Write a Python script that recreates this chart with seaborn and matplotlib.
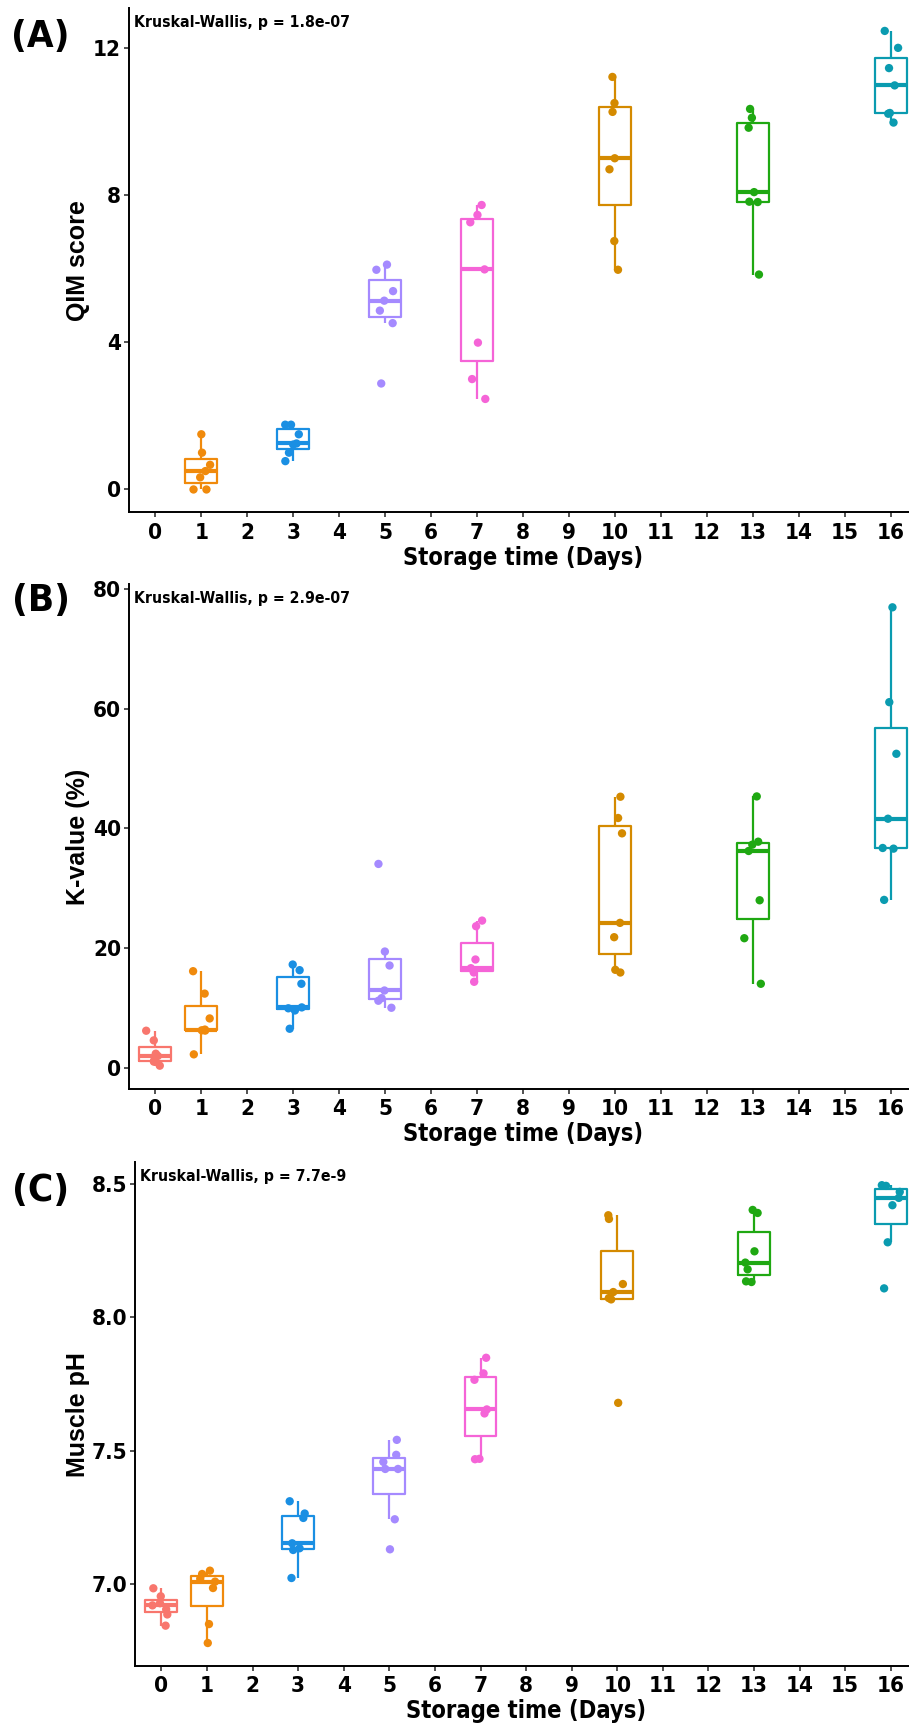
import numpy as np
import pandas as pd
import matplotlib
matplotlib.use("Agg")
import matplotlib.pyplot as plt
from matplotlib import font_manager
import seaborn as sns

# ---------------- data ----------------
day_ticks = list(range(0, 17))

qim_days = [1, 3, 5, 7, 10, 13, 16]
qim_values = [
    [0.0, 0.0, 0.33, 0.5, 0.67, 1.0, 1.5],
    [0.77, 1.0, 1.22, 1.25, 1.5, 1.76, 1.76],
    [2.88, 4.52, 4.86, 5.13, 5.39, 5.97, 6.11],
    [2.46, 3.0, 3.99, 5.98, 7.26, 7.46, 7.73],
    [5.97, 6.75, 8.70, 9.0, 10.26, 10.50, 11.21],
    [5.84, 7.81, 7.82, 8.08, 9.83, 10.10, 10.34],
    [9.97, 10.21, 10.23, 10.98, 11.45, 12.0, 12.46],
]

kval_days = [0, 1, 3, 5, 7, 10, 13, 16]
kval_values = [
    [0.43, 1.1, 1.25, 2.05, 2.43, 4.65, 6.26],
    [2.32, 6.28, 6.33, 6.45, 8.31, 12.45, 16.19],
    [6.59, 9.64, 10.0, 10.15, 14.09, 16.36, 17.3],
    [10.09, 11.26, 11.69, 12.97, 17.14, 19.47, 34.08],
    [14.42, 15.97, 16.36, 16.69, 18.14, 23.69, 24.63],
    [15.97, 16.42, 21.86, 24.25, 39.18, 41.74, 45.29],
    [14.09, 21.69, 28.02, 36.24, 37.29, 37.79, 45.34],
    [28.08, 36.63, 36.74, 41.62, 52.45, 61.06, 76.88],
]

ph_days = [0, 1, 3, 5, 7, 10, 13, 16]
ph_values = [
    [6.844, 6.886, 6.905, 6.92, 6.928, 6.954, 6.984],
    [6.779, 6.85, 6.985, 7.009, 7.02, 7.0375, 7.05],
    [7.0225, 7.1275, 7.134, 7.1525, 7.2475, 7.264, 7.31],
    [7.13, 7.2425, 7.431, 7.431, 7.4575, 7.484, 7.54],
    [7.4675, 7.469, 7.639, 7.654, 7.765, 7.789, 7.8475],
    [7.6786, 8.0662, 8.0712, 8.0937, 8.1237, 8.3676, 8.3814],
    [8.1313, 8.1338, 8.1788, 8.204, 8.2463, 8.39, 8.4013],
    [8.1075, 8.2801, 8.419, 8.4464, 8.4689, 8.4914, 8.494],
]

day_colors = {
    0: "#F8766D",
    1: "#F08A0C",
    3: "#1A8FE3",
    5: "#A58AFF",
    7: "#F564D7",
    10: "#D48A00",
    13: "#1FA812",
    16: "#0A9BB0",
}

panel_letters = ["(A)", "(B)", "(C)"]
y_labels = ["QIM score", "K-value (%)", "Muscle pH"]
kw_texts = ["Kruskal-Wallis, p = 1.8e-07",
            "Kruskal-Wallis, p = 2.9e-07",
            "Kruskal-Wallis, p = 7.7e-9"]
y_ticks = [[0, 4, 8, 12], [0, 20, 40, 60, 80], [7.0, 7.5, 8.0, 8.5]]
y_ticklabels = [["0", "4", "8", "12"], ["0", "20", "40", "60", "80"],
                ["7.0", "7.5", "8.0", "8.5"]]
x_label = "Storage time (Days)"

# ---------------- style ----------------
sns.set_style("ticks")
plt.rcParams["font.family"] = ["Liberation Sans", "DejaVu Sans"]
plt.rcParams["font.weight"] = "bold"
plt.rcParams["text.color"] = "black"
plt.rcParams["axes.labelcolor"] = "black"
plt.rcParams["axes.linewidth"] = 1.4
plt.rcParams["xtick.major.width"] = 1.2
plt.rcParams["ytick.major.width"] = 1.2
plt.rcParams["xtick.major.size"] = 3.5
plt.rcParams["ytick.major.size"] = 3.5
plt.rcParams["xtick.color"] = "#333333"
plt.rcParams["ytick.color"] = "#333333"

# condensed bold font for horizontal texts
_names = {f.name for f in font_manager.fontManager.ttflist}
_dv_cond = any(f.name == "DejaVu Sans" and "condensed" in str(f.stretch)
               for f in font_manager.fontManager.ttflist)
if "Liberation Sans Narrow" in _names:
    NARROW = dict(family=["Liberation Sans Narrow", "DejaVu Sans"], scale=1.0)
elif _dv_cond:
    NARROW = dict(family=["DejaVu Sans"], stretch="condensed", scale=0.92)
else:
    NARROW = dict(family=["Liberation Sans", "DejaVu Sans"], scale=0.85)


def nprops(size):
    kw = dict(family=NARROW["family"], weight="bold", size=size * NARROW["scale"])
    if "stretch" in NARROW:
        kw["stretch"] = NARROW["stretch"]
    return font_manager.FontProperties(**kw)


W, H = 909, 1726
fig = plt.figure(figsize=(W / 100, H / 100), dpi=100)

# axes rectangles in pixels: left, top, right, bottom
rects_px = [(128.7, 8.0, 909, 512.4),
            (128.7, 584.4, 909, 1088.6),
            (135.0, 1162.3, 909, 1665.9)]
letter_y_px = [37, 601, 1191]

np.random.seed(7)

datasets = [(qim_days, qim_values), (kval_days, kval_values), (ph_days, ph_values)]

for i, ((days, values), (l, t, r, b)) in enumerate(zip(datasets, rects_px)):
    ax = fig.add_axes([l / W, 1 - b / H, (r - l) / W, (b - t) / H])
    df = pd.DataFrame({
        "day": np.repeat(days, [len(v) for v in values]),
        "value": np.concatenate(values),
    })
    df["group"] = df["day"].astype(str)
    pal = {str(d): day_colors[d] for d in days}
    nw = float(np.diff(sorted(days)).min())

    sns.boxplot(data=df, x="day", y="value", hue="group", palette=pal,
                native_scale=True, fill=False, width=0.7 / nw, showfliers=False,
                showcaps=False, linewidth=1.6, saturation=1, legend=False,
                ax=ax, medianprops=dict(linewidth=3.0))
    sns.stripplot(data=df, x="day", y="value", hue="group", palette=pal,
                  native_scale=True, jitter=0.2 / nw, size=6, legend=False,
                  ax=ax, zorder=3, linewidth=0)

    vmin, vmax = df["value"].min(), df["value"].max()
    pad = 0.05 * (vmax - vmin)
    ax.set_ylim(vmin - pad, vmax + pad)
    ax.set_xlim(-0.58, 16.4)

    ax.set_xticks(day_ticks)
    ax.set_xticklabels([str(d) for d in day_ticks])
    ax.set_yticks(y_ticks[i])
    ax.set_yticklabels(y_ticklabels[i])
    ax.tick_params(axis="both", labelcolor="black")
    ax.tick_params(axis="x", pad=4)
    ax.tick_params(axis="y", pad=2)
    tp = nprops(17.5)
    for lab in ax.get_xticklabels() + ax.get_yticklabels():
        lab.set_fontproperties(tp)
    ax.set_xlabel("")
    ax.set_ylabel("")
    sns.despine(ax=ax)
    for s in ["left", "bottom"]:
        ax.spines[s].set_color("black")

    # axis titles
    cx = (l + r) / 2 + 4
    fig.text(cx / W, 1 - (b + 52.5) / H, x_label, ha="center", va="baseline",
             fontproperties=nprops(18.5))
    fig.text(78 / W, 1 - ((t + b) / 2) / H, y_labels[i], ha="center",
             va="center", rotation=90, fontsize=18, fontweight="bold")

    # Kruskal-Wallis annotation
    ax.annotate(kw_texts[i], xy=(0, 1), xycoords="axes fraction",
                xytext=(5, -14), textcoords="offset pixels",
                ha="left", va="center", fontproperties=nprops(12.3))

    # panel letter
    fig.text(40.6 / W, 1 - letter_y_px[i] / H, panel_letters[i], ha="center",
             va="center", fontproperties=nprops(30))

fig.savefig("out.png", dpi=100)
